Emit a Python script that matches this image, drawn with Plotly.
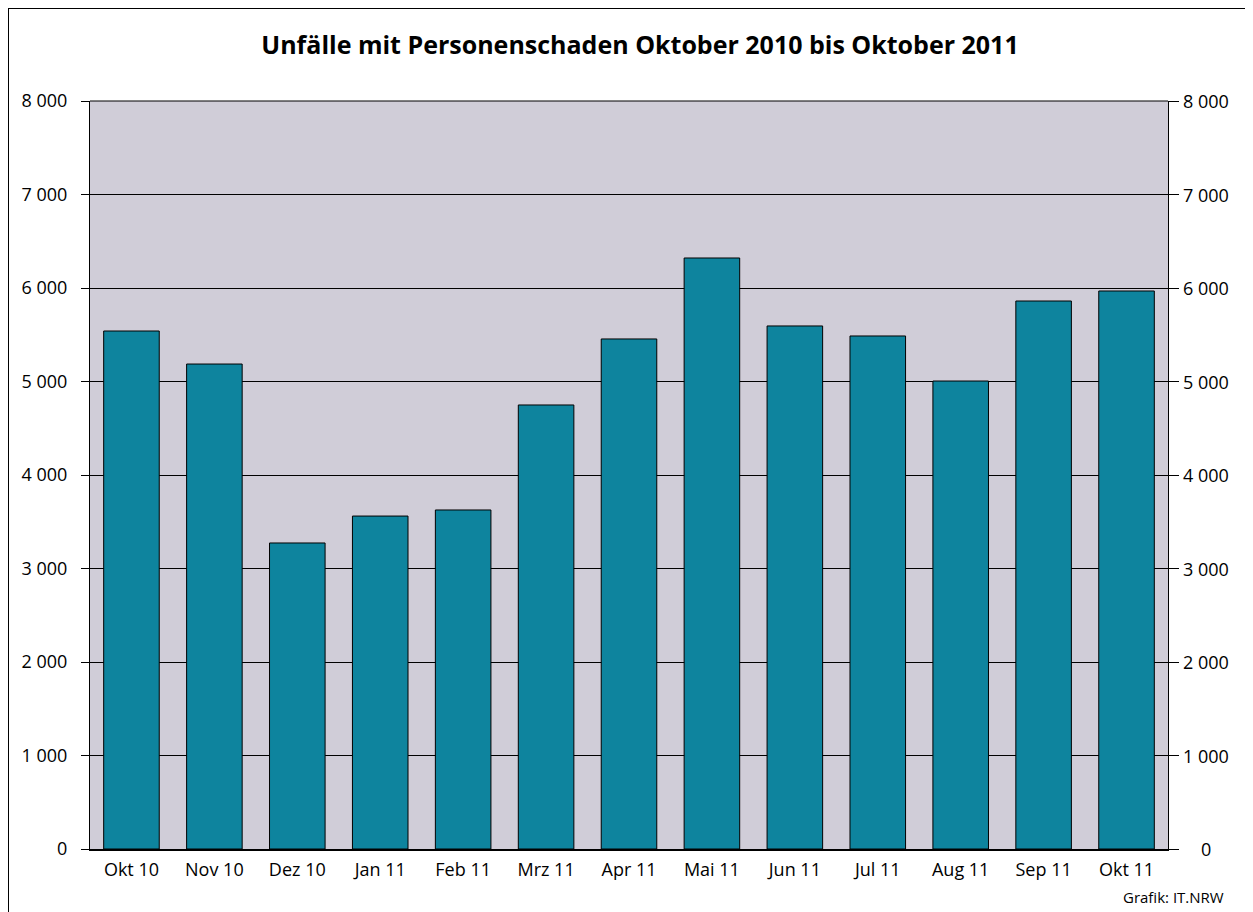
import plotly.graph_objects as go

months = ["Okt 10", "Nov 10", "Dez 10", "Jan 11", "Feb 11", "Mrz 11", "Apr 11",
          "Mai 11", "Jun 11", "Jul 11", "Aug 11", "Sep 11", "Okt 11"]
unfaelle = [5540, 5187, 3273, 3561, 3626, 4749, 5455, 6321, 5594, 5487, 5005, 5861, 5968]
tick_vals = [0, 1000, 2000, 3000, 4000, 5000, 6000, 7000, 8000]
tick_text = ["0", "1 000", "2 000", "3 000", "4 000", "5 000", "6 000", "7 000", "8 000"]

FONT = "Open Sans, Noto Sans, sans-serif"
OFF = 8  # page body margin

W, H = 1245, 904
L, T = 90 - OFF, 101 - OFF
R = W - (1168 - OFF)
B = H - (849 - OFF)
pw = W - L - R
ph = H - T - B

def px_x(x):  # screen x -> paper
    return (x - OFF - L) / pw

def px_y(y):  # screen y -> paper
    return 1 - (y - OFF - T) / ph

fig = go.Figure()
fig.add_trace(go.Bar(
    x=months, y=unfaelle,
    marker=dict(color="#0e849e", line=dict(color="black", width=1)),
    hoverinfo="x+y", showlegend=False,
))
fig.add_trace(go.Scatter(x=months, y=unfaelle, yaxis="y2", mode="markers",
                         marker=dict(opacity=0), showlegend=False, hoverinfo="skip"))

fig.update_layout(
    width=W, height=H,
    margin=dict(l=L, r=R, t=T, b=B, autoexpand=False),
    paper_bgcolor="white",
    plot_bgcolor="#d0cdd8",
    bargap=0.33,
    font=dict(family=FONT, size=18, color="black"),
    title=dict(text="<b>Unfälle mit Personenschaden Oktober 2010 bis Oktober 2011</b>",
               x=(640 - OFF) / W, xanchor="center", y=1 - (45 - OFF) / H, yanchor="middle",
               font=dict(family=FONT, size=25, color="black")),
    xaxis=dict(
        range=[-0.5, len(months) - 0.5],
        showgrid=False, showline=True, linecolor="black", linewidth=2,
        ticks="", tickfont=dict(size=18), ticklabelstandoff=3,
    ),
    yaxis=dict(
        range=[0, 8000], tickvals=tick_vals, ticktext=tick_text,
        showgrid=True, gridcolor="black", gridwidth=1,
        showline=True, linecolor="black", linewidth=1,
        ticks="outside", ticklen=8, tickcolor="black",
        ticklabelstandoff=10, zeroline=False, tickfont=dict(size=18),
    ),
    yaxis2=dict(
        range=[0, 8000], tickvals=tick_vals, ticktext=tick_text,
        overlaying="y", side="right", showgrid=False,
        showline=True, linecolor="black", linewidth=1,
        ticks="outside", ticklen=10, tickcolor="black",
        showticklabels=False, zeroline=False,
    ),
)

# right-side labels, centred as in the original
for v, t in zip(tick_vals, tick_text):
    fig.add_annotation(text=t, xref="paper", yref="y", x=px_x(1206), y=v,
                       xanchor="center", yanchor="middle", showarrow=False,
                       font=dict(family=FONT, size=18, color="black"))

# top border of plot area
fig.add_shape(type="line", xref="paper", yref="paper", x0=0, x1=1, y0=1, y1=1,
              line=dict(color="black", width=1))

# outer frame of the graphic
fig.add_shape(type="rect", xref="paper", yref="paper",
              x0=px_x(8), x1=px_x(1252), y0=px_y(913), y1=px_y(8),
              line=dict(color="black", width=2), fillcolor="rgba(0,0,0,0)", layer="below")

fig.add_annotation(text="Grafik: IT.NRW", xref="paper", yref="paper",
                   x=px_x(1226), y=px_y(897),
                   xanchor="right", yanchor="middle", showarrow=False,
                   font=dict(family=FONT, size=15, color="black"))

fig.write_html("out.html")
